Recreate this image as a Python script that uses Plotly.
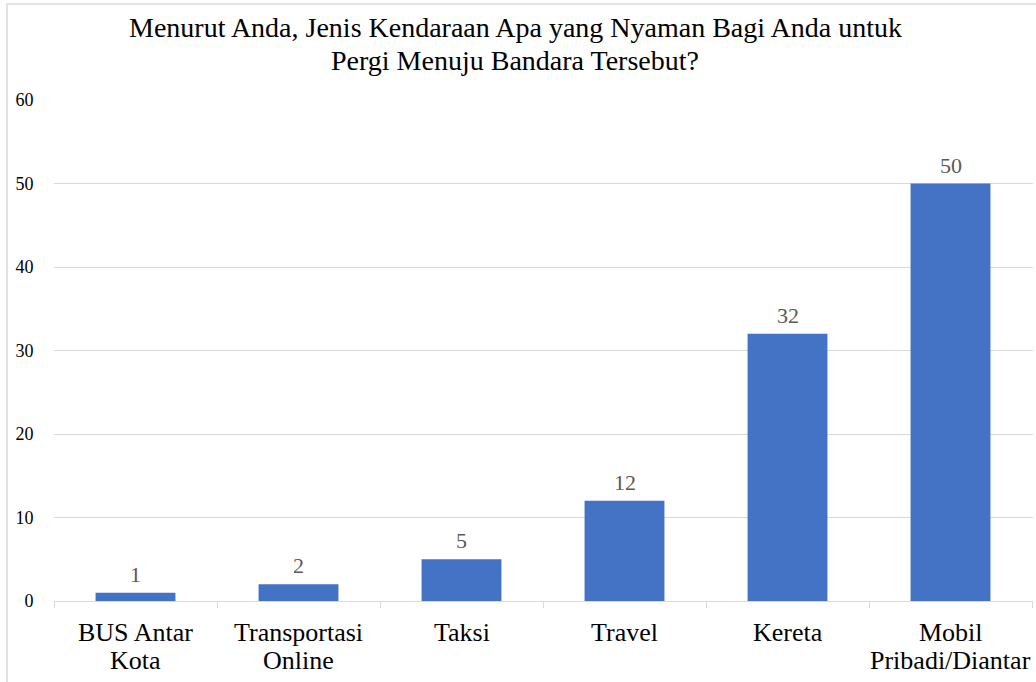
import plotly.graph_objects as go

categories = ["BUS Antar<br>Kota", "Transportasi<br>Online", "Taksi", "Travel", "Kereta", "Mobil<br>Pribadi/Diantar"]
values = [1, 2, 5, 12, 32, 50]
y_ticks = [0, 10, 20, 30, 40, 50, 60]
title_lines = ["Menurut Anda, Jenis Kendaraan Apa yang Nyaman Bagi Anda untuk",
               "Pergi Menuju Bandara Tersebut?"]

W, H = 1036, 682
L, R, T, B = 54, 3, 100, 81
plot_h = H - T - B
serif = "Liberation Serif, Times New Roman, serif"

fig = go.Figure()
fig.add_trace(go.Bar(
    x=categories,
    y=values,
    marker=dict(color="#4472C4", line=dict(width=0)),
    width=0.49,
    hoverinfo="skip",
))

# value labels above each bar
for c, v in zip(categories, values):
    fig.add_annotation(
        x=c, y=v, text=str(v), showarrow=False,
        yanchor="bottom", yshift=4,
        font=dict(family=serif, size=22, color="#595959"),
    )

# category labels, one line at a time for tighter line spacing
for c in categories:
    for i, line in enumerate(c.split("<br>")):
        fig.add_annotation(
            x=c, y=0, yref="y", text=line, showarrow=False,
            yanchor="middle", yshift=-(31 + 28 * i),
            font=dict(family=serif, size=26, color="#000000"),
        )

# two-line title
for i, line in enumerate(title_lines):
    fig.add_annotation(
        xref="paper", yref="paper",
        x=(515 - L) / (W - L - R), y=1 + (T - (28 + 32 * i)) / plot_h,
        text=line, showarrow=False, xanchor="center", yanchor="middle",
        font=dict(family=serif, size=28, color="#000000"),
    )

# chart border (top and left edges visible)
fig.add_shape(
    type="rect", xref="paper", yref="paper",
    x0=(7 - L) / (W - L - R), x1=1.02,
    y0=-0.3, y1=(H - B - 4) / plot_h,
    line=dict(color="#d9d9d9", width=1.5), fillcolor="rgba(0,0,0,0)",
    layer="below",
)

fig.update_layout(
    width=W, height=H,
    margin=dict(l=L, r=R, t=T, b=B),
    paper_bgcolor="white",
    plot_bgcolor="white",
    showlegend=False,
    xaxis=dict(
        type="category",
        showline=True, linecolor="#d9d9d9", linewidth=1,
        ticks="outside", tickson="boundaries", ticklen=6, tickcolor="#d9d9d9",
        showticklabels=False,
        showgrid=False,
    ),
    yaxis=dict(
        range=[0, 60],
        tickvals=y_ticks,
        showgrid=True, gridcolor="#d9d9d9", gridwidth=1,
        zeroline=False, showline=False,
        ticks="outside", ticklen=16, tickcolor="rgba(0,0,0,0)",
        tickfont=dict(family=serif, size=18, color="#000000"),
    ),
)

fig.write_html("out.html")
